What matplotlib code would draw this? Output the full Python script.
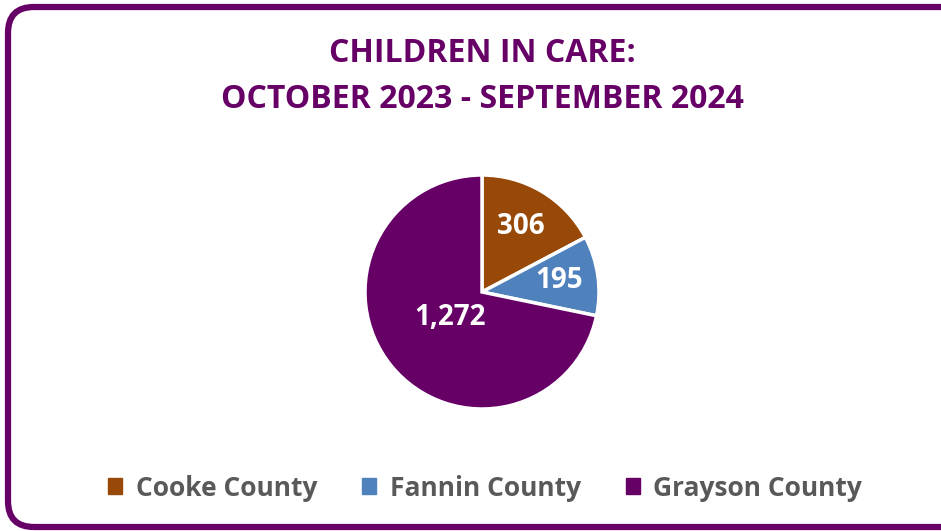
import matplotlib
matplotlib.use("Agg")
import matplotlib.pyplot as plt
from matplotlib.patches import FancyBboxPatch, Patch
import numpy as np

categories = ["Cooke County", "Fannin County", "Grayson County"]
values = [306, 195, 1272]
value_labels = ["306", "195", "1,272"]
colors = ["#984807", "#4F81BD", "#660066"]
title_lines = ["CHILDREN IN CARE:", "OCTOBER 2023 - SEPTEMBER 2024"]

W, H = 941, 531
fig = plt.figure(figsize=(W / 100, H / 100), dpi=100)
ax = fig.add_axes([0, 0, 1, 1])

FONT = ["Open Sans", "DejaVu Sans"]
PURPLE = "#660066"

cx, cy, r = 482, H - 292, 117
wedges, _ = ax.pie(values, colors=colors, startangle=90, counterclock=False,
                   center=(cx, cy), radius=r,
                   wedgeprops=dict(edgecolor="white", linewidth=2.5))
ax.set_xlim(0, W)
ax.set_ylim(0, H)
ax.set_aspect("auto")
ax.axis("off")

label_dist = [0.65, 0.67, 0.35]
for w, lab, d in zip(wedges, value_labels, label_dist):
    ang = np.deg2rad((w.theta1 + w.theta2) / 2)
    ax.text(cx + d * r * np.cos(ang), cy + d * r * np.sin(ang), lab,
            color="white", fontsize=20, fontweight="bold", family=FONT,
            ha="center", va="center")

border = FancyBboxPatch((8, 4), 1000, H - 11,
                        boxstyle="round,pad=0,rounding_size=26",
                        transform=None, fill=False, edgecolor=PURPLE, linewidth=4.5)
fig.patches.append(border)

fig.text(482 / W, 1 - 54 / H, title_lines[0], color=PURPLE, fontsize=23,
         fontweight="bold", family=FONT, ha="center", va="center")
fig.text(482 / W, 1 - 100 / H, title_lines[1], color=PURPLE, fontsize=23,
         fontweight="bold", family=FONT, ha="center", va="center")

handles = [Patch(facecolor=c, edgecolor=c) for c in colors]
leg = fig.legend(handles, categories, loc="center", ncol=3,
                 bbox_to_anchor=(485 / W, 1 - 488 / H), frameon=False,
                 handlelength=0.55, handleheight=0.55, handletextpad=0.5,
                 columnspacing=1.7,
                 prop=dict(family=FONT, weight="bold", size=19))
for t in leg.get_texts():
    t.set_color("#595959")

fig.savefig("out.png", dpi=100)
